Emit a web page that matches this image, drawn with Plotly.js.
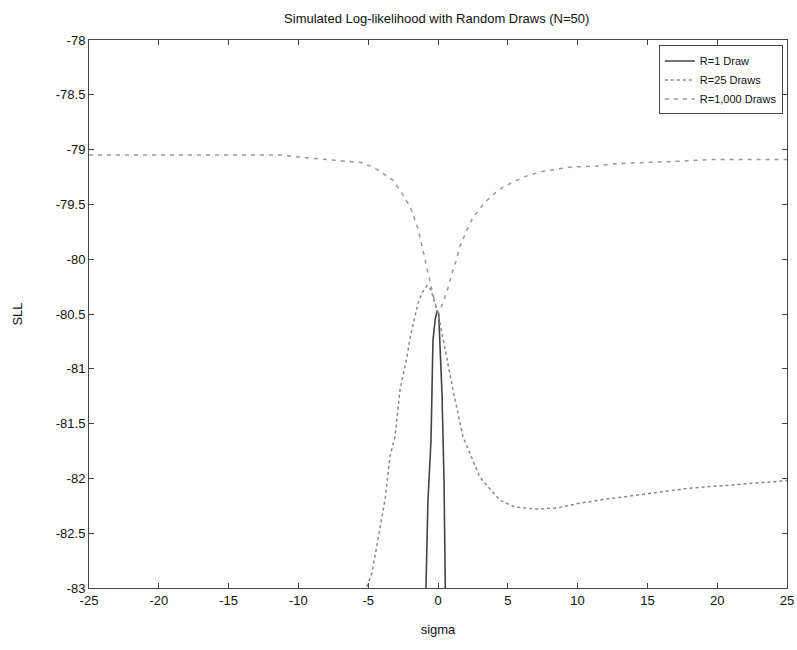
<!DOCTYPE html>
<html>
<head>
<meta charset="utf-8">
<script src="https://cdn.plot.ly/plotly-3.0.1.min.js"></script>
<style>html,body{margin:0;padding:0;background:#fff;}#chart{width:797px;height:650px;}</style>
</head>
<body>
<div id="chart"></div>
<script>
// R=1 Draw
var r1X = [-0.95, -0.86, -0.72, -0.5, -0.36, -0.2, -0.07, 0.05, 0.14, 0.29, 0.43, 0.5, 0.58];
var r1Y = [-83.5, -83.0, -82.2, -81.65, -80.74, -80.55, -80.47, -80.5, -80.83, -81.24, -82.01, -83.0, -83.6];

// R=25 Draws
var r25X = [-5.3, -5.09, -4.73, -4.15, -3.8, -3.44, -3.08, -2.72, -2.22, -2.0, -1.65, -1.43, -1.1, -0.79, -0.5, -0.21, 0, 0.14, 0.5, 1.07, 1.79, 2.08, 3.0, 4.44, 5.5, 7, 8.5, 10, 12, 15, 18, 20, 22, 25];
var r25Y = [-83.15, -82.99, -82.86, -82.47, -82.2, -81.8, -81.62, -81.19, -80.89, -80.72, -80.53, -80.40, -80.30, -80.24, -80.28, -80.40, -80.5, -80.58, -80.83, -81.19, -81.62, -81.71, -81.99, -82.2, -82.26, -82.28, -82.27, -82.23, -82.19, -82.14, -82.09, -82.07, -82.05, -82.02];

// R=1,000 Draws
var r1000X = [-25, -20, -15, -11.3, -8.95, -5.37, -4.37, -3.22, -2.58, -2.0, -1.43, -1.15, -0.79, -0.4, 0, 0.36, 0.72, 1.0, 1.36, 1.58, 2.08, 2.5, 3.37, 4.3, 5.3, 6.38, 7.45, 8.38, 9.46, 11.4, 12.5, 14.26, 16.6, 19.7, 23.8, 25];
var r1000Y = [-79.05, -79.05, -79.05, -79.05, -79.08, -79.12, -79.18, -79.28, -79.40, -79.52, -79.72, -79.88, -80.08, -80.3, -80.5, -80.40, -80.26, -80.13, -79.99, -79.88, -79.73, -79.62, -79.48, -79.37, -79.30, -79.24, -79.2, -79.18, -79.16, -79.15, -79.13, -79.12, -79.11, -79.09, -79.09, -79.09];

// tick labels
var xTickVals = [-25, -20, -15, -10, -5, 0, 5, 10, 15, 20, 25];
var xTickText = ['-25', '-20', '-15', '-10', '-5', '0', '5', '10', '15', '20', '25'];
var yTickVals = [-83, -82.5, -82, -81.5, -81, -80.5, -80, -79.5, -79, -78.5, -78];
var yTickText = ['-83', '-82.5', '-82', '-81.5', '-81', '-80.5', '-80', '-79.5', '-79', '-78.5', '-78'];

var FONT = 'Liberation Sans, Arial, sans-serif';

var traces = [
  {x: r1X, y: r1Y, name: 'R=1 Draw', mode: 'lines', line: {color: '#444', width: 1.6, dash: 'solid'}},
  {x: r25X, y: r25Y, name: 'R=25 Draws', mode: 'lines', line: {color: '#888', width: 1.5, dash: 'dot'}},
  {x: r1000X, y: r1000Y, name: 'R=1,000 Draws', mode: 'lines', line: {color: '#999', width: 1.5, dash: '4px,5px'}}
];

var layout = {
  width: 797, height: 650,
  margin: {l: 89, r: 10, t: 40, b: 62},
  paper_bgcolor: '#fff', plot_bgcolor: '#fff',
  font: {family: FONT, size: 13, color: '#111'},
  title: {text: 'Simulated Log-likelihood with Random Draws (N=50)', font: {family: FONT, size: 13, color: '#111'}, x: 0.548, xanchor: 'center', y: 0.972, yanchor: 'middle'},
  xaxis: {
    range: [-25, 25], tickvals: xTickVals, ticktext: xTickText,
    ticks: 'inside', ticklen: 5, tickcolor: '#444', mirror: 'ticks',
    showline: true, linecolor: '#444', linewidth: 1, showgrid: false, zeroline: false,
    tickfont: {family: FONT, size: 13, color: '#111'},
    title: {text: 'sigma', font: {family: FONT, size: 13, color: '#111'}, standoff: 18}
  },
  yaxis: {
    range: [-83, -78], tickvals: yTickVals, ticktext: yTickText,
    ticks: 'inside', ticklen: 5, tickcolor: '#444', mirror: 'ticks',
    showline: true, linecolor: '#444', linewidth: 1, showgrid: false, zeroline: false,
    tickfont: {family: FONT, size: 13, color: '#111'},
    title: {text: 'SLL', font: {family: FONT, size: 13, color: '#111'}, standoff: 30}
  },
  showlegend: true,
  legend: {x: 0.994, xanchor: 'right', y: 0.99, yanchor: 'top', bgcolor: '#fff', bordercolor: '#444', borderwidth: 1,
           font: {family: FONT, size: 11, color: '#111'}, tracegroupgap: 0}
};

Plotly.newPlot('chart', traces, layout, {displayModeBar: false, staticPlot: true});
</script>
</body>
</html>
